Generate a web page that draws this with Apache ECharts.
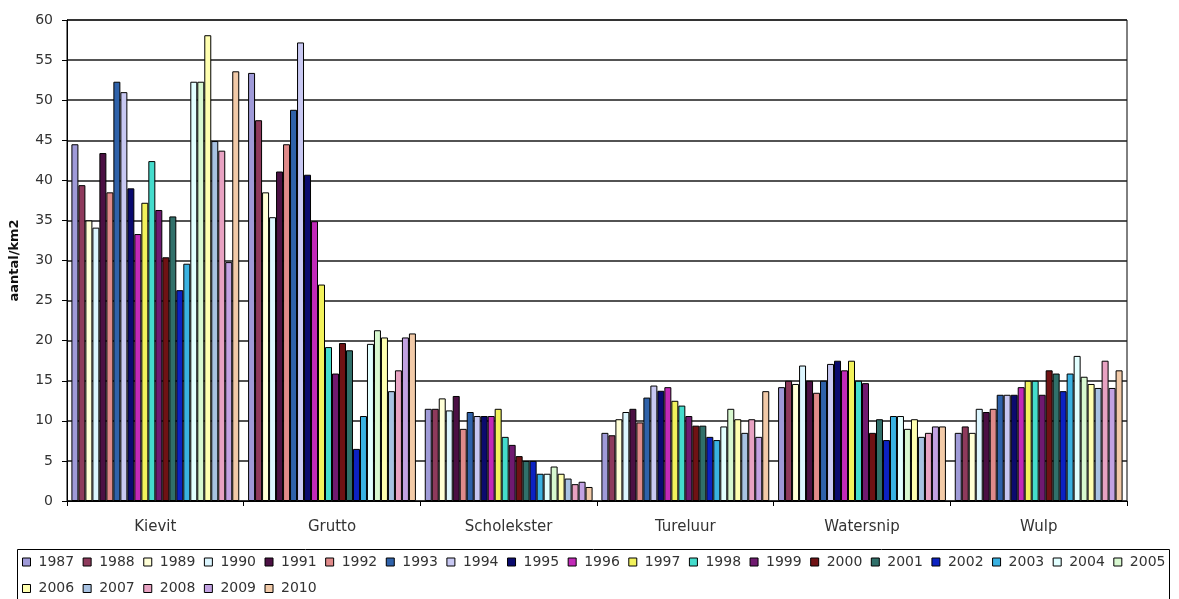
<!DOCTYPE html>
<html><head><meta charset="utf-8">
<script src="https://cdn.jsdelivr.net/npm/echarts@6/dist/echarts.min.js"></script>
<style>html,body{margin:0;padding:0;background:#fff;}#c{width:1179px;height:599px;}</style>
</head><body><div id="c"></div>
<script>
var categories = ['Kievit','Grutto','Scholekster','Tureluur','Watersnip','Wulp'];
var years = ['1987','1988','1989','1990','1991','1992','1993','1994','1995','1996','1997','1998','1999','2000','2001','2002','2003','2004','2005','2006','2007','2008','2009','2010'];
var kievit      = [44.5,39.4,35.0,34.1,43.4,38.5,52.3,51.0,39.0,33.3,37.2,42.4,36.3,30.4,35.5,26.3,29.6,52.3,52.3,58.1,44.9,43.7,29.8,53.6];
var grutto      = [53.4,47.5,38.5,35.4,41.1,44.5,48.8,57.2,40.7,34.9,27.0,19.2,15.9,19.7,18.8,6.5,10.6,19.6,21.3,20.4,13.7,16.3,20.4,20.9];
var scholekster = [11.5,11.5,12.8,11.3,13.1,9.0,11.1,10.6,10.6,10.6,11.5,8.0,7.0,5.6,5.0,5.0,3.4,3.4,4.3,3.4,2.8,2.1,2.4,1.75];
var tureluur    = [8.5,8.2,10.2,11.1,11.5,9.8,12.9,14.4,13.75,14.2,12.5,11.9,10.6,9.4,9.4,8.0,7.6,9.3,11.5,10.2,8.5,10.2,8.0,13.7];
var watersnip   = [14.2,15.0,14.6,16.9,15.0,13.5,15.0,17.1,17.5,16.3,17.5,15.0,14.7,8.5,10.2,7.6,10.6,10.6,9.0,10.2,8.0,8.5,9.3,9.3];
var wulp        = [8.5,9.3,8.5,11.5,11.1,11.5,13.25,13.25,13.25,14.2,15.0,15.0,13.25,16.3,15.9,13.7,15.9,18.1,15.5,14.6,14.1,17.5,14.1,16.3];
var yTicks = [0,5,10,15,20,25,30,35,40,45,50,55,60];

var colors = ['#9f9ad8','#8e3a5c','#ffffd6','#dcf6ff','#4c1044','#e08a8a','#2f62aa','#c8c8f2','#0a0a6e','#c22ab8','#f2f25c','#44dccc','#701a70','#701214','#30706a','#0c22c2','#3ab2e2','#e2ffff','#d8f8d0','#ffffb0','#a8c2e2','#e8a2c2','#c2a2e2','#f2caa8'];

var table = [kievit, grutto, scholekster, tureluur, watersnip, wulp];
var series = years.map(function(y, i){
  return {
    name: y, type: 'bar',
    data: table.map(function(arr){ return arr[i]; }),
    barGap: '0%', barCategoryGap: '5%',
    itemStyle: { color: colors[i], borderColor: '#000', borderWidth: 1 },
    animation: false
  };
});

var chart = echarts.init(document.getElementById('c'), null, {renderer:'canvas'});
var font = 'DejaVu Sans, Liberation Sans, sans-serif';
chart.setOption({
  animation: false,
  color: colors,
  textStyle: { fontFamily: font },
  grid: { left: 67, right: 52, top: 20, bottom: 98, show: true, borderColor: '#000', borderWidth: 1 },
  xAxis: {
    type: 'category', data: categories,
    axisLine: { lineStyle: { color: '#000', width: 1 } },
    axisTick: { show: true, length: 5, lineStyle: { color: '#000' } },
    axisLabel: { color: '#333', fontSize: 15, fontFamily: font, margin: 19 }
  },
  yAxis: {
    type: 'value', min: 0, max: 60, interval: 5,
    name: 'aantal/km2', nameLocation: 'middle', nameGap: 46,
    nameTextStyle: { color: '#111', fontSize: 13, fontWeight: 'bold', fontFamily: font },
    axisLine: { show: true, lineStyle: { color: '#000', width: 1 } },
    axisTick: { show: true, length: 5, lineStyle: { color: '#000' } },
    axisLabel: { color: '#333', fontSize: 14, fontFamily: font, margin: 14,
      formatter: function(v){ return yTicks.indexOf(v) >= 0 ? String(v) : ''; } },
    splitLine: { show: true, lineStyle: { color: '#1a1a1a', width: 1.5 } }
  },
  legend: {
    data: years, left: 22, top: 553, width: 1157,
    itemWidth: 8, itemHeight: 8, itemGap: 8.5,
    icon: 'rect',
    itemStyle: { borderColor: '#000', borderWidth: 1 },
    textStyle: { color: '#333', fontSize: 14, lineHeight: 18, fontFamily: font, padding: [0,0,0,3] },
    padding: 0
  },
  graphic: [{
    type: 'rect', shape: { x: 17.5, y: 549.5, width: 1152, height: 60 },
    style: { fill: 'none', stroke: '#000', lineWidth: 1 }, silent: true, z: -1
  }],
  series: series
});
</script></body></html>
